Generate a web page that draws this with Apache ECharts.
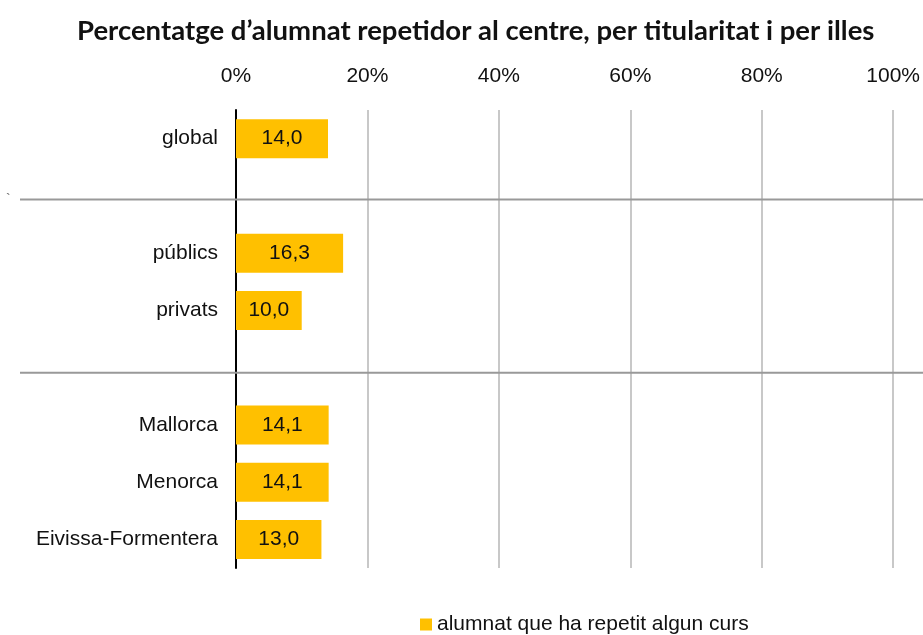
<!DOCTYPE html>
<html>
<head>
<meta charset="utf-8">
<script src="https://cdn.jsdelivr.net/npm/echarts@6/dist/echarts.min.js"></script>
<style>
  html, body { margin: 0; padding: 0; background: #fff; }
  #chart { width: 923px; height: 635px; }
</style>
</head>
<body>
<div id="chart"></div>
<script>
// Row labels; the two blank rows separate the groups (global / titularitat / illes)
const categories = ['global', ' ', 'públics', 'privats', '  ', 'Mallorca', 'Menorca', 'Eivissa-Formentera'];
// Percentage of repeating pupils per row ('-' = blank separator row)
const values = [14.0, '-', 16.3, 10.0, '-', 14.1, 14.1, 13.0];
const seriesName = 'alumnat que ha repetit algun curs';
const titleText = 'Percentatge d\u2019alumnat repetidor al centre, per titularitat i per illes';
// Indices of the blank rows where group separators are drawn
const separatorRows = [1, 4];

const chart = echarts.init(document.getElementById('chart'), null, { renderer: 'canvas' });

const baseFont = '"Liberation Sans", Arial, sans-serif';

chart.setOption({
  animation: false,
  backgroundColor: '#ffffff',
  title: {
    text: titleText,
    left: 72,
    top: 12,
    textStyle: {
      fontFamily: 'Lato, sans-serif',
      fontWeight: 'bold',
      fontSize: 27.5,
      color: '#111'
    }
  },
  legend: {
    left: 415,
    top: 609,
    itemWidth: 12,
    itemHeight: 12,
    itemGap: 10,
    icon: 'rect',
    data: [seriesName],
    textStyle: { fontFamily: baseFont, fontSize: 21, color: '#111' }
  },
  grid: { left: 236, right: 26, top: 110, bottom: 67, containLabel: false },
  xAxis: {
    type: 'value',
    position: 'top',
    min: 0,
    max: 100,
    interval: 20,
    axisLine: { show: false },
    axisTick: { show: false },
    axisLabel: {
      formatter: '{value}%',
      margin: 23,
      fontFamily: baseFont,
      fontSize: 21,
      color: '#111'
    },
    splitLine: { show: true, lineStyle: { color: '#c8c8c8', width: 2 } }
  },
  yAxis: {
    type: 'category',
    inverse: true,
    data: categories,
    axisLine: { show: true, lineStyle: { color: '#000', width: 2 } },
    axisTick: { show: false },
    axisLabel: {
      margin: 18,
      fontFamily: baseFont,
      fontSize: 21,
      color: '#111'
    },
    splitLine: { show: false }
  },
  series: [{
    name: seriesName,
    type: 'bar',
    data: values,
    barWidth: 39,
    itemStyle: { color: '#FFC000' },
    label: {
      show: true,
      position: 'inside',
      fontFamily: baseFont,
      fontSize: 21,
      color: '#111',
      formatter: p => p.value.toFixed(1).replace('.', ',')
    }
  }]
});

// Group separators: full-width gray rules just below the centre of each blank row
const seps = separatorRows.map((row, i) => {
  const y = chart.convertToPixel({ yAxisIndex: 0 }, categories[row]) + (i === 0 ? 3.5 : 5);
  return {
    type: 'line',
    z: 10,
    shape: { x1: 20, y1: y, x2: 923, y2: y },
    style: { stroke: '#999999', lineWidth: 2 }
  };
});
// small stray tick mark at the left end of the first separator
seps.push({
  type: 'text',
  left: 6,
  top: 193,
  style: { text: '`', fill: '#666', font: '14px "Liberation Sans", Arial, sans-serif' }
});
chart.setOption({ graphic: seps });
</script>
</body>
</html>
